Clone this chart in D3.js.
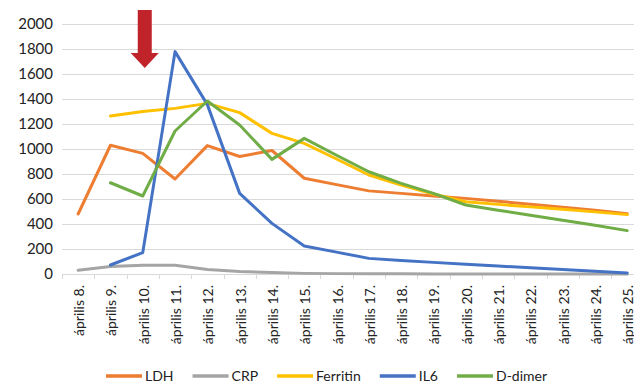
<!DOCTYPE html>
<html>
<head>
<meta charset="utf-8">
<script src="https://cdn.jsdelivr.net/npm/d3@7"></script>
<style>
  body { margin: 0; background: #fff; }
  svg { display: block; font-family: Lato, "Open Sans", sans-serif; }
</style>
</head>
<body>
<div id="chart"></div>
<script>
// dates on the x axis
const days = ["április 8.", "április 9.", "április 10.", "április 11.", "április 12.", "április 13.",
  "április 14.", "április 15.", "április 16.", "április 17.", "április 18.", "április 19.",
  "április 20.", "április 21.", "április 22.", "április 23.", "április 24.", "április 25."];

const ldh = [480, 1030, 965, 760, 1027, 940, 988, 766, 715, 665, 645, 624, 605, 582, 558, 535, 510, 483];
const crp = [30, 60, 70, 70, 36, 20, 12, 5, 3, 2, 2, 1, 1, 1, 1, 1, 1, 1];
const ferritin = [null, 1264, 1300, 1325, 1365, 1291, 1125, 1045, 920, 792, 712, 640, 578, 557, 537, 518, 497, 475];
const il6 = [null, 72, 171, 1779, 1355, 645, 405, 224, 175, 125, 108, 93, 78, 64, 50, 36, 22, 8];
const ddimer = [null, 730, 624, 1144, 1384, 1192, 917, 1085, 950, 818, 725, 645, 552, 510, 470, 430, 390, 347];

const yTicks = [0, 200, 400, 600, 800, 1000, 1200, 1400, 1600, 1800, 2000];

const series = [
  { name: "LDH", values: ldh, color: "#ED7D31" },
  { name: "CRP", values: crp, color: "#A5A5A5" },
  { name: "Ferritin", values: ferritin, color: "#FFC000" },
  { name: "IL6", values: il6, color: "#4472C4" },
  { name: "D-dimer", values: ddimer, color: "#70AD47" }
];

const width = 634, height = 385;
const plotLeft = 62, plotTop = 24, plotBottom = 274;

const svg = d3.select("#chart").append("svg")
  .attr("width", width)
  .attr("height", height);

const x = d3.scaleBand()
  .domain(days)
  .range([plotLeft, plotLeft + 18 * 32.3])
  .padding(0);

const y = d3.scaleLinear()
  .domain([0, 2000])
  .range([plotBottom, plotTop]);

const cx = d => x(d) + x.bandwidth() / 2;

// gridlines
svg.append("g")
  .selectAll("line")
  .data(yTicks)
  .join("line")
  .attr("x1", plotLeft)
  .attr("x2", width)
  .attr("y1", d => Math.round(y(d)) + 0.5)
  .attr("y2", d => Math.round(y(d)) + 0.5)
  .attr("stroke", "#d9d9d9")
  .attr("stroke-width", 1);

// y labels
svg.append("g")
  .selectAll("text")
  .data(yTicks)
  .join("text")
  .attr("x", 53)
  .attr("y", d => y(d))
  .attr("dy", "0.36em")
  .attr("text-anchor", "end")
  .attr("font-size", "15px")
  .attr("fill", "#222")
  .text(d => d);

// x axis ticks between categories
svg.append("g")
  .selectAll("line")
  .data(days.concat(["end"]))
  .join("line")
  .attr("x1", (d, i) => Math.round(plotLeft + i * x.bandwidth()) + 0.5)
  .attr("x2", (d, i) => Math.round(plotLeft + i * x.bandwidth()) + 0.5)
  .attr("y1", plotBottom)
  .attr("y2", plotBottom + 5)
  .attr("stroke", "#d9d9d9");

// x labels, rotated
svg.append("g")
  .selectAll("text")
  .data(days)
  .join("text")
  .attr("transform", d => "translate(" + (cx(d) + 1) + "," + (plotBottom + 11) + ") rotate(-90)")
  .attr("dy", "0.36em")
  .attr("text-anchor", "end")
  .attr("font-size", "14px")
  .attr("fill", "#222")
  .text(d => d);

// lines
const line = d3.line()
  .defined(d => d[1] != null)
  .x(d => cx(d[0]))
  .y(d => y(d[1]));

svg.append("g")
  .selectAll("path")
  .data(series)
  .join("path")
  .attr("d", s => line(days.map((d, i) => [d, s.values[i]])))
  .attr("fill", "none")
  .attr("stroke", s => s.color)
  .attr("stroke-width", 3)
  .attr("stroke-linejoin", "round")
  .attr("stroke-linecap", "round");

// red arrow above april 10
const ax = cx("április 10.") + 2;
svg.append("path")
  .attr("d", "M" + (ax - 7) + ",10 L" + (ax + 7) + ",10 L" + (ax + 7) + ",53 L" + (ax + 14) + ",53 L" + ax + ",68 L" + (ax - 14) + ",53 L" + (ax - 7) + ",53 Z")
  .attr("fill", "#c1232b");

// legend
const legend = svg.append("g");
let lx = 106;
series.forEach(s => {
  legend.append("line")
    .attr("x1", lx).attr("x2", lx + 36)
    .attr("y1", 376).attr("y2", 376)
    .attr("stroke", s.color)
    .attr("stroke-width", 3.5);
  const t = legend.append("text")
    .attr("x", lx + 39)
    .attr("y", 376)
    .attr("dy", "0.36em")
    .attr("font-size", "14px")
    .attr("fill", "#222")
    .text(s.name);
  lx += 39 + t.node().getComputedTextLength() + 19;
});
</script>
</body>
</html>
